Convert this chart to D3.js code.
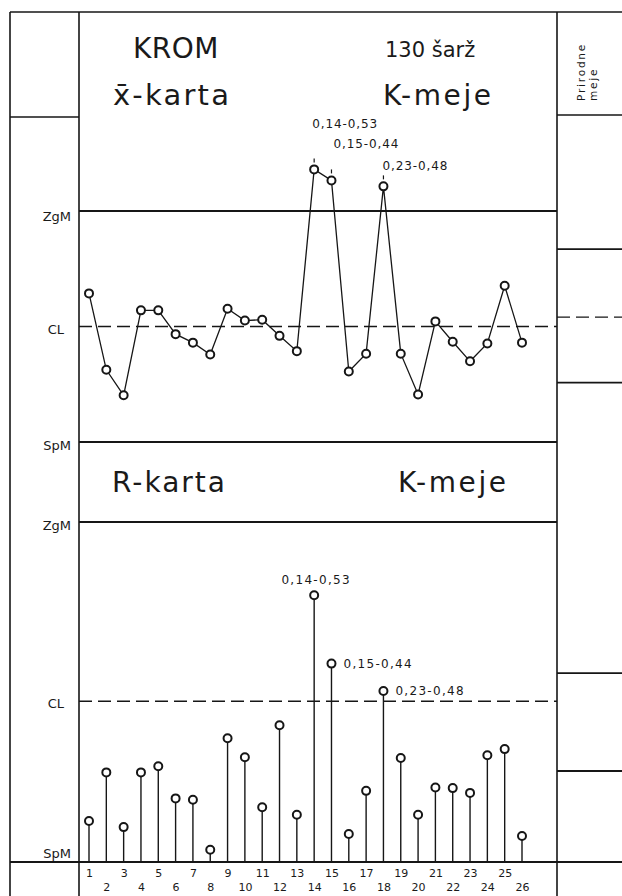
<!DOCTYPE html>
<html>
<head>
<meta charset="utf-8">
<script src="https://cdn.jsdelivr.net/npm/d3@7"></script>
<style>
  html, body { margin: 0; padding: 0; background: #fff; }
  svg { display: block; }
  text { font-family: "DejaVu Sans", sans-serif; fill: #1a1a1a; }
</style>
</head>
<body>
<script>
// Sample (batch) numbers along the horizontal axis
const sampleNo = [1,2,3,4,5,6,7,8,9,10,11,12,13,14,15,16,17,18,19,20,21,22,23,24,25,26];

// Mean chromium content per sample (x-bar chart)
const xbarValues = [0.239,0.149,0.119,0.219,0.219,0.191,0.181,0.167,0.221,0.207,0.208,0.189,0.171,
                    0.385,0.372,0.147,0.168,0.365,0.168,0.120,0.206,0.182,0.159,0.180,0.248,0.181];

// Range per sample (R chart)
const rangeValues = [0.060,0.131,0.051,0.131,0.140,0.093,0.091,0.018,0.181,0.153,0.080,0.200,0.069,
                     0.39,0.29,0.041,0.104,0.25,0.152,0.069,0.109,0.108,0.101,0.156,0.165,0.038];

// Control limits
const limitNames = ["ZgM", "CL", "SpM"];
const xbarLimits = [0.336, 0.200, 0.064];
const rLimits = [0.497, 0.235, 0];

// Natural limits shown in the side column
const xbarNatural = [0.291, 0.211, 0.134];
const rNatural = [0.276, 0.133];

// Samples out of control, with their min–max readings
const flaggedSamples = [14, 15, 18];
const flaggedText = ["0,14-0,53", "0,15-0,44", "0,23-0,48"];

const W = 622, H = 896;
const L0 = 10, L1 = 79, R0 = 557, R1 = 622, TOP = 12;
const ink = "#161616";

const svg = d3.select("body").append("svg").attr("width", W).attr("height", H);

const x = d3.scaleLinear().domain([1, 26]).range([89, 522]);
const yX = d3.scaleLinear().domain([xbarLimits[2], xbarLimits[0]]).range([442, 211]);
const yR = d3.scaleLinear().domain([rLimits[2], rLimits[0]]).range([862, 522]);

function hline(y, x1, x2, w, dash) {
  svg.append("line").attr("x1", x1).attr("x2", x2).attr("y1", y).attr("y2", y)
    .attr("stroke", ink).attr("stroke-width", w)
    .attr("stroke-dasharray", dash || null);
}
function vline(xp, y1, y2, w) {
  svg.append("line").attr("x1", xp).attr("x2", xp).attr("y1", y1).attr("y2", y2)
    .attr("stroke", ink).attr("stroke-width", w);
}

// Form frame
hline(TOP, L0, R1, 1.6);
vline(L0, TOP, H, 1.6);
vline(L1, TOP, H, 1.6);
vline(R0, TOP, H, 1.6);
hline(117, L0, L1, 1.4);
hline(115, R0, R1, 1.4);

// x-bar control limits
hline(yX(xbarLimits[0]), L1, R0, 2.2);
hline(yX(xbarLimits[1]), L1, R0, 1.5, "13,6");
hline(yX(xbarLimits[2]), L1, R0, 2.2);

// R control limits
hline(yR(rLimits[0]), L1, R0, 2.2);
hline(yR(rLimits[1]), L1, R0, 1.5, "13,6");
hline(yR(rLimits[2]), L0, R1, 2.2);

// Natural limits column
hline(yX(xbarNatural[0]), R0, R1, 1.8);
hline(yX(xbarNatural[1]), R0, R1, 1.4, "13,6");
hline(yX(xbarNatural[2]), R0, R1, 1.8);
rNatural.forEach(v => hline(yR(v), R0, R1, 1.8));

// Limit labels on the left
function limitAxis(scale, values, dys) {
  const g = svg.append("g").attr("transform", `translate(${L1},0)`)
    .call(d3.axisLeft(scale).tickValues(values).tickSize(0).tickPadding(8)
      .tickFormat((d, i) => limitNames[i]));
  g.select(".domain").remove();
  g.selectAll("text")
    .attr("font-family", "DejaVu Sans Condensed, DejaVu Sans, sans-serif")
    .attr("font-size", 13).attr("fill", "#555")
    .attr("dy", (d, i) => dys[i])
    .attr("dx", (d, i) => limitNames[i] === "CL" ? -7 : 0);
}
limitAxis(yX, xbarLimits, ["0.75em", "0.55em", "0.55em"]);
limitAxis(yR, rLimits, ["0.6em", "0.5em", "-0.35em"]);

// Titles
function title(t, xp, yp, size, ls) {
  svg.append("text").attr("x", xp).attr("y", yp).attr("font-size", size)
    .attr("letter-spacing", ls).text(t);
}
title("KROM", 133, 58, 28, 0.5);
title("130 šarž", 385, 57, 21, 0);
title("x\u0304-karta", 113, 105, 29, 2.2);
title("K-meje", 383, 105, 28, 2.6);
title("R-karta", 112, 492, 28, 2);
title("K-meje", 398, 492, 28, 2.6);

// Side column heading
svg.append("text").attr("transform", "translate(585,101) rotate(-90)")
  .attr("font-size", 10.5).attr("letter-spacing", 1.8).text("Prirodne");
svg.append("text").attr("transform", "translate(597,101) rotate(-90)")
  .attr("font-size", 10.5).attr("letter-spacing", 1.8).text("meje");

// x-bar chart: polyline with open circles
const pts = sampleNo.map((s, i) => ({ s, v: xbarValues[i] }));
svg.append("path").datum(pts)
  .attr("d", d3.line().x(d => x(d.s)).y(d => yX(d.v)))
  .attr("fill", "none").attr("stroke", ink).attr("stroke-width", 1.3);
svg.append("g").selectAll("circle").data(pts).join("circle")
  .attr("cx", d => x(d.s)).attr("cy", d => yX(d.v)).attr("r", 4)
  .attr("fill", "#fff").attr("stroke", ink).attr("stroke-width", 2);

// Small pointer marks above the flagged means
svg.append("g").selectAll("line").data(flaggedSamples).join("line")
  .attr("x1", s => x(s)).attr("x2", s => x(s))
  .attr("y1", s => yX(xbarValues[s - 1]) - 11).attr("y2", s => yX(xbarValues[s - 1]) - 7)
  .attr("stroke", ink).attr("stroke-width", 1.2);

const xbarNoteOffsets = [[-2, -41], [2, -32], [-1, -16]];
svg.append("g").selectAll("text").data(flaggedSamples).join("text")
  .attr("x", (s, i) => x(s) + xbarNoteOffsets[i][0])
  .attr("y", (s, i) => yX(xbarValues[s - 1]) + xbarNoteOffsets[i][1])
  .attr("font-size", 12).attr("letter-spacing", 0.9)
  .text((s, i) => flaggedText[i]);

// R chart: stems with open circles
const rpts = sampleNo.map((s, i) => ({ s, v: rangeValues[i] }));
svg.append("g").selectAll("line").data(rpts).join("line")
  .attr("x1", d => x(d.s)).attr("x2", d => x(d.s))
  .attr("y1", d => yR(d.v) + 4).attr("y2", yR(0))
  .attr("stroke", ink).attr("stroke-width", 1.4);
svg.append("g").selectAll("circle").data(rpts).join("circle")
  .attr("cx", d => x(d.s)).attr("cy", d => yR(d.v)).attr("r", 4)
  .attr("fill", "#fff").attr("stroke", ink).attr("stroke-width", 2);

svg.append("g").selectAll("text").data(flaggedSamples).join("text")
  .attr("x", (s, i) => i === 0 ? x(s) + 2 : x(s) + 12)
  .attr("y", (s, i) => i === 0 ? yR(rangeValues[s - 1]) - 11 : yR(rangeValues[s - 1]) + 4)
  .attr("text-anchor", (s, i) => i === 0 ? "middle" : "start")
  .attr("font-size", 12).attr("letter-spacing", 1.3)
  .text((s, i) => flaggedText[i]);

// Sample numbers, staggered on two rows
const ax = svg.append("g").attr("transform", `translate(0,${yR(0)})`)
  .call(d3.axisBottom(x).tickValues(sampleNo).tickSize(0).tickPadding(0).tickFormat(d3.format("d")));
ax.select(".domain").remove();
ax.selectAll("text")
  .attr("font-family", "DejaVu Sans Condensed, DejaVu Sans, sans-serif")
  .attr("font-size", 11).attr("fill", "#333")
  .attr("y", d => d % 2 ? 15 : 29).attr("dy", 0);
</script>
</body>
</html>
